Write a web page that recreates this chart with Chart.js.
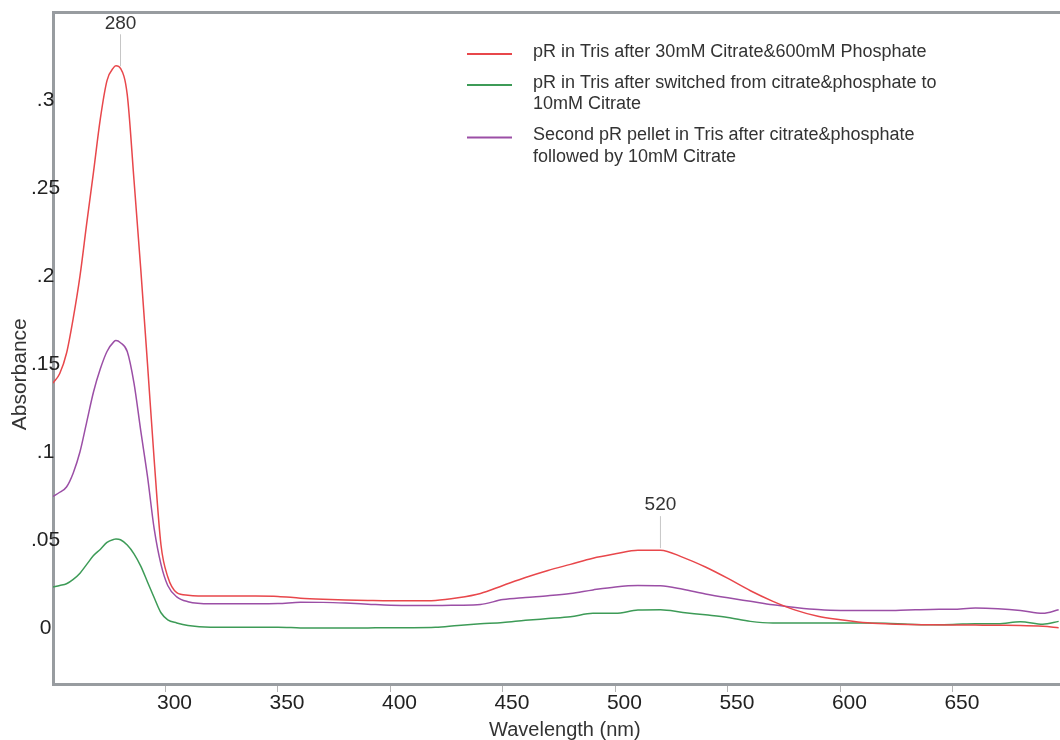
<!DOCTYPE html>
<html>
<head>
<meta charset="utf-8">
<title>Absorbance spectra</title>
<script src="https://cdn.jsdelivr.net/npm/chart.js@4"></script>
<style>
  body { margin: 0; background: #fff; }
  #wrap { width: 1060px; height: 740px; }
</style>
</head>
<body>
<div id="wrap"><canvas id="myChart"></canvas></div>
<script>
// wavelength grid (nm) the three spectra were read at
const wavelengths = [250, 253, 256, 259, 262, 265, 268, 271, 274, 277, 278, 280, 283, 286, 289, 292, 295, 298, 301, 305, 310,
  320, 330, 340, 350, 360, 370, 380, 390, 400, 410, 420, 430, 440, 450, 460, 470, 480, 490, 500, 510, 520,
  530, 540, 550, 560, 570, 580, 590, 600, 610, 620, 630, 640, 650, 660, 670, 680, 690, 697];

// pR in Tris after 30mM Citrate&600mM Phosphate
const redAbs = [0.139, 0.1445, 0.156, 0.176, 0.200, 0.230, 0.259, 0.289, 0.311, 0.3185, 0.3195, 0.318, 0.303, 0.2545, 0.204, 0.150, 0.095, 0.047, 0.029, 0.020, 0.0185,
  0.018, 0.018, 0.018, 0.0178, 0.0168, 0.0162, 0.0158, 0.0155, 0.0153, 0.0153, 0.0155, 0.0170, 0.0195, 0.0240, 0.0285, 0.0325, 0.0360, 0.0395, 0.0420, 0.0441, 0.0441,
  0.0400, 0.0345, 0.0280, 0.0210, 0.0150, 0.0100, 0.0065, 0.0045, 0.0030, 0.0022, 0.0018, 0.0017, 0.0016, 0.0015, 0.0014, 0.0013, 0.0008, 0.0000];

// pR in Tris after switched to 10mM Citrate
const greenAbs = [0.0231, 0.0240, 0.0250, 0.0275, 0.0310, 0.0360, 0.0410, 0.0445, 0.0485, 0.0502, 0.0504, 0.0500, 0.0470, 0.0420, 0.0350, 0.0260, 0.0170, 0.0085, 0.0045, 0.0027, 0.0012,
  0.0002, 0.0003, 0.0003, 0.0003, -0.0001, -0.0002, -0.0002, -0.0001, 0.0000, 0.0000, 0.0002, 0.0013, 0.0022, 0.0030, 0.0042, 0.0052, 0.0062, 0.0082, 0.0082, 0.0100, 0.0102,
  0.0087, 0.0073, 0.0058, 0.0036, 0.0027, 0.0027, 0.0027, 0.0027, 0.0027, 0.0026, 0.0020, 0.0017, 0.0018, 0.0023, 0.0023, 0.0034, 0.0020, 0.0036];

// second pR pellet
const purpleAbs = [0.0746, 0.0770, 0.0800, 0.0880, 0.1000, 0.1170, 0.1340, 0.1470, 0.1570, 0.1625, 0.1632, 0.1620, 0.1570, 0.1390, 0.1120, 0.0860, 0.0560, 0.0360, 0.0240, 0.0175, 0.0148,
  0.0136, 0.0136, 0.0136, 0.0137, 0.0145, 0.0144, 0.0140, 0.0134, 0.0128, 0.0126, 0.0126, 0.0128, 0.0132, 0.0160, 0.0172, 0.0182, 0.0195, 0.0215, 0.0232, 0.0240, 0.0238,
  0.0218, 0.0192, 0.0170, 0.0150, 0.0130, 0.0115, 0.0103, 0.0098, 0.0098, 0.0098, 0.0101, 0.0104, 0.0105, 0.0112, 0.0108, 0.0098, 0.0082, 0.0102];

const seriesNames = [
  ["pR in Tris after 30mM Citrate&600mM Phosphate"],
  ["pR in Tris after switched from citrate&phosphate to", "10mM Citrate"],
  ["Second pR pellet in Tris after citrate&phosphate", "followed by 10mM Citrate"]
];
const seriesColors = ["#e8474b", "#3d9b57", "#9b4fa6"];

const xTicks = [300, 350, 400, 450, 500, 550, 600, 650];
const yTicks = [0, 0.05, 0.1, 0.15, 0.2, 0.25, 0.3];
const yTickLabels = ["0", ".05", ".1", ".15", ".2", ".25", ".3"];

// peaks marked on the first spectrum
const peakLabels = [280, 520];

const textFont = "'Liberation Sans', Arial, sans-serif";
const tickFont = { family: textFont, size: 21, lineHeight: 1 };
const axisGray = "#989ca0";

const toPoints = (values) => values.map((v, i) => ({ x: wavelengths[i], y: v }));

// linear lookup on the grid, used to hang the peak markers on the curve
const valueAt = (values, wl) => {
  for (let i = 1; i < wavelengths.length; i++) {
    if (wl <= wavelengths[i]) {
      const t = (wl - wavelengths[i - 1]) / (wavelengths[i] - wavelengths[i - 1]);
      return values[i - 1] + t * (values[i] - values[i - 1]);
    }
  }
  return values[values.length - 1];
};

const peakMarks = {
  id: "peakMarks",
  afterDatasetsDraw(chart) {
    const { ctx, scales: { x, y } } = chart;
    peakLabels.forEach((wl) => {
      const px = x.getPixelForValue(wl);
      const py = y.getPixelForValue(valueAt(redAbs, wl));
      ctx.save();
      ctx.strokeStyle = "#c6c6c6";
      ctx.lineWidth = 1;
      ctx.beginPath();
      ctx.moveTo(px, py - 2);
      ctx.lineTo(px, py - 34);
      ctx.stroke();
      ctx.fillStyle = "#333";
      ctx.font = "19px " + textFont;
      ctx.textAlign = "center";
      ctx.textBaseline = "middle";
      ctx.fillText(String(wl), px, py - 45);
      ctx.restore();
    });
  }
};

// legend drawn by hand so the wrapped entries sit like the original
const legendBox = {
  id: "legendBox",
  afterDraw(chart) {
    const ctx = chart.ctx;
    const lineGap = 21.5;
    let y = 52;
    ctx.save();
    ctx.font = "18px " + textFont;
    ctx.textBaseline = "middle";
    ctx.textAlign = "left";
    chart.data.datasets.forEach((ds, i) => {
      const lines = seriesNames[i];
      ctx.strokeStyle = ds.borderColor;
      ctx.lineWidth = 2;
      ctx.beginPath();
      ctx.moveTo(467, y + 2);
      ctx.lineTo(512, y + 2);
      ctx.stroke();
      ctx.fillStyle = "#333";
      lines.forEach((txt, k) => ctx.fillText(txt, 533, y + k * lineGap));
      y += lines.length * lineGap + 9.5;
    });
    ctx.restore();
  }
};

const makeSet = (values, i) => ({
  label: seriesNames[i].join(" "),
  data: toPoints(values),
  borderColor: seriesColors[i],
  borderWidth: 1.5,
  pointRadius: 0,
  cubicInterpolationMode: "monotone",
  fill: false
});

const ctx = document.getElementById("myChart").getContext("2d");
const myChart = new Chart(ctx, {
  type: "line",
  data: {
    datasets: [makeSet(redAbs, 0), makeSet(greenAbs, 1), makeSet(purpleAbs, 2)]
  },
  options: {
    responsive: true,
    maintainAspectRatio: false,
    animation: false,
    layout: { padding: 0 },
    plugins: {
      legend: { display: false },
      tooltip: { enabled: false }
    },
    scales: {
      x: {
        type: "linear",
        min: 250,
        max: 697.6,
        afterBuildTicks: (scale) => { scale.ticks = xTicks.map((v) => ({ value: v })); },
        afterFit: (scale) => { scale.height = 56; },
        ticks: { font: tickFont, color: "#222", padding: 1, labelOffset: 9, maxRotation: 0 },
        grid: { drawOnChartArea: false, drawTicks: true, tickLength: 8, color: "#b4b4b4", lineWidth: 1 },
        border: { color: axisGray, width: 3 },
        title: {
          display: true,
          text: "   Wavelength (nm)",
          color: "#333",
          font: { family: textFont, size: 20, lineHeight: 1 },
          padding: { top: 0, bottom: 0 }
        }
      },
      xTop: {
        type: "linear",
        position: "top",
        min: 250,
        max: 697.6,
        afterFit: (scale) => { scale.height = 12; },
        ticks: { display: false },
        grid: { display: false, drawTicks: false },
        border: { color: axisGray, width: 3 }
      },
      y: {
        min: -0.032,
        max: 0.35,
        afterBuildTicks: (scale) => { scale.ticks = yTicks.map((v) => ({ value: v })); },
        afterFit: (scale) => { scale.width = 53; },
        ticks: {
          font: tickFont,
          color: "#222",
          // mirrored so the labels may sit across the axis line, as in the original
          mirror: true,
          padding: -22,
          crossAlign: "center",
          callback: (value, index) => yTickLabels[index]
        },
        grid: { display: false, drawTicks: false },
        border: { color: axisGray, width: 3 },
        title: {
          display: true,
          // trailing spaces push the title down to where the original has it
          text: "Absorbance         ",
          color: "#333",
          font: { family: textFont, size: 21, lineHeight: 1 },
          padding: { top: 9.5, bottom: 0 }
        }
      }
    }
  },
  plugins: [peakMarks, legendBox]
});
</script>
</body>
</html>
